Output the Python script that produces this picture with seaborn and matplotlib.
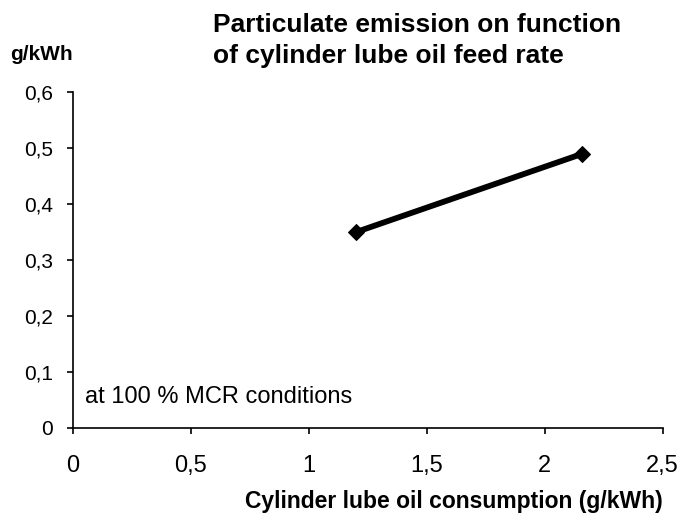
import numpy as np
import pandas as pd
import matplotlib
matplotlib.use("Agg")
import matplotlib.pyplot as plt
import seaborn as sns

# Data
lube_oil = [1.2, 2.16]       # g/kWh cylinder lube oil consumption
particulates = [0.35, 0.49]  # g/kWh particulate emission
x_ticks = [0, 0.5, 1, 1.5, 2, 2.5]
x_tick_labels = ["0", "0,5", "1", "1,5", "2", "2,5"]
y_ticks = [0, 0.1, 0.2, 0.3, 0.4, 0.5, 0.6]
y_tick_labels = ["0", "0,1", "0,2", "0,3", "0,4", "0,5", "0,6"]

df = pd.DataFrame({"consumption": lube_oil, "emission": particulates})

sns.set_style("ticks")
plt.rcParams['font.family'] = ['Liberation Sans', 'DejaVu Sans']
plt.rcParams['text.color'] = 'black'
plt.rcParams['xtick.color'] = 'black'
plt.rcParams['ytick.color'] = 'black'

fig = plt.figure(figsize=(6.84, 5.27), dpi=100)
ax = fig.add_axes([0.1067, 0.188, 0.862, 0.637])

sns.lineplot(data=df, x="consumption", y="emission", ax=ax, color="black",
             linewidth=4.2, marker="D", markersize=8, markeredgecolor="black")

ax.set_xlim(0, 2.5)
ax.set_ylim(0, 0.6)
ax.set_xticks(x_ticks)
ax.set_xticklabels(x_tick_labels)
ax.set_yticks(y_ticks)
ax.set_yticklabels(y_tick_labels)
ax.tick_params(axis="x", labelsize=17, length=4.5, width=1.2, pad=15)
ax.tick_params(axis="y", labelsize=15, length=4.5, width=1.2, pad=10)
for side in ["left", "bottom"]:
    ax.spines[side].set_linewidth(1.2)
    ax.spines[side].set_color("black")
sns.despine(ax=ax)

ax.set_xlabel("")
ax.set_ylabel("")
fig.text(0.969, 0.036, "Cylinder lube oil consumption (g/kWh)", ha="right",
         va="baseline", fontsize=16.5, fontweight="bold")
fig.text(0.015, 0.886, "g/kWh", ha="left", va="baseline",
         fontsize=15, fontweight="bold")
fig.text(0.311, 0.939, "Particulate emission on function", ha="left",
         va="baseline", fontsize=19, fontweight="bold")
fig.text(0.311, 0.880, "of cylinder lube oil feed rate", ha="left",
         va="baseline", fontsize=19, fontweight="bold")
ax.text(0.02, 0.074, "at 100 % MCR conditions", transform=ax.transAxes,
        fontsize=17, ha="left", va="baseline")

fig.savefig("out.png", dpi=100)
